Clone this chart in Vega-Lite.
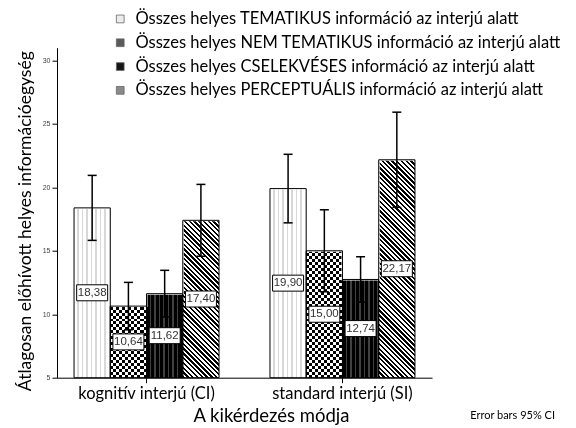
{
  "$schema": "https://vega.github.io/schema/vega-lite/v6.json",
  "width": 375,
  "height": 330,
  "autosize": "none",
  "padding": {"left": 57, "top": 47.7, "right": 144, "bottom": 50.3},
  "background": "white",
  "title": {"text": "Error bars 95% CI", "orient": "bottom", "anchor": "end", "frame": "group", "font": "Lato", "fontSize": 11, "fontWeight": "normal", "color": "#000", "offset": -15, "dx": 123},
  "data": {"values": [
    {"grp": "kognitív interjú (CI)", "type": "Összes helyes TEMATIKUS információ az interjú alatt", "value": 18.38, "lo": 15.82, "hi": 20.94},
    {"grp": "kognitív interjú (CI)", "type": "Összes helyes NEM TEMATIKUS információ az interjú alatt", "value": 10.64, "lo": 8.77, "hi": 12.51},
    {"grp": "kognitív interjú (CI)", "type": "Összes helyes CSELEKVÉSES információ az interjú alatt", "value": 11.62, "lo": 9.78, "hi": 13.46},
    {"grp": "kognitív interjú (CI)", "type": "Összes helyes PERCEPTUÁLIS információ az interjú alatt", "value": 17.40, "lo": 14.57, "hi": 20.23},
    {"grp": "standard interjú (SI)", "type": "Összes helyes TEMATIKUS információ az interjú alatt", "value": 19.90, "lo": 17.2, "hi": 22.6},
    {"grp": "standard interjú (SI)", "type": "Összes helyes NEM TEMATIKUS információ az interjú alatt", "value": 15.00, "lo": 11.77, "hi": 18.23},
    {"grp": "standard interjú (SI)", "type": "Összes helyes CSELEKVÉSES információ az interjú alatt", "value": 12.74, "lo": 10.95, "hi": 14.53},
    {"grp": "standard interjú (SI)", "type": "Összes helyes PERCEPTUÁLIS információ az interjú alatt", "value": 22.17, "lo": 18.42, "hi": 25.92}
  ]},
  "encoding": {
    "x": {"field": "grp", "type": "nominal", "sort": ["kognitív interjú (CI)", "standard interjú (SI)"], "scale": {"paddingInner": 0.26, "paddingOuter": 0.087}, "axis": {"title": "A kikérdezés módja"}},
    "xOffset": {"field": "type", "type": "nominal", "sort": ["Összes helyes TEMATIKUS információ az interjú alatt", "Összes helyes NEM TEMATIKUS információ az interjú alatt", "Összes helyes CSELEKVÉSES információ az interjú alatt", "Összes helyes PERCEPTUÁLIS információ az interjú alatt"]}
  },
  "layer": [
    {
      "mark": {"type": "bar", "strokeWidth": 0},
      "encoding": {
        "y": {"datum": 23, "type": "quantitative", "scale": {"domain": [5, 31], "nice": false, "zero": false}, "title": "Átlagosan előhívott helyes információegység"},
        "y2": {"datum": 5},
        "fill": {"field": "type", "type": "nominal",
          "scale": {"domain": ["Összes helyes TEMATIKUS információ az interjú alatt", "Összes helyes NEM TEMATIKUS információ az interjú alatt", "Összes helyes CSELEKVÉSES információ az interjú alatt", "Összes helyes PERCEPTUÁLIS információ az interjú alatt"],
            "range": ["#ececec", "#5a5a5a", "#151515", "#8a8a8a"]},
          "legend": {"orient": "none", "legendX": 55, "legendY": -37, "title": null, "direction": "vertical", "labelFont": "Lato", "labelFontSize": 16.5, "labelColor": "#000", "labelLimit": 700, "symbolType": "square", "symbolSize": 60, "symbolStrokeColor": "#666", "symbolStrokeWidth": 0.8, "rowPadding": 6.8, "labelOffset": 7}}
      }
    },
    {
      "transform": [{"filter": {"field": "type", "equal": "Összes helyes TEMATIKUS információ az interjú alatt"}}],
      "mark": {"type": "bar", "strokeWidth": 0, "fill": {"gradient": "linear", "x1": 0, "y1": 0, "x2": 1, "y2": 0, "stops": [
                {"offset":0,"color":"#fff"},{"offset":0.09,"color":"#fff"},{"offset":0.09,"color":"#d8d8d8"},{"offset":0.125,"color":"#d8d8d8"},
                {"offset":0.125,"color":"#fff"},{"offset":0.215,"color":"#fff"},{"offset":0.215,"color":"#d8d8d8"},{"offset":0.25,"color":"#d8d8d8"},
                {"offset":0.25,"color":"#fff"},{"offset":0.34,"color":"#fff"},{"offset":0.34,"color":"#d8d8d8"},{"offset":0.375,"color":"#d8d8d8"},
                {"offset":0.375,"color":"#fff"},{"offset":0.465,"color":"#fff"},{"offset":0.465,"color":"#d8d8d8"},{"offset":0.5,"color":"#d8d8d8"},
                {"offset":0.5,"color":"#fff"},{"offset":0.59,"color":"#fff"},{"offset":0.59,"color":"#d8d8d8"},{"offset":0.625,"color":"#d8d8d8"},
                {"offset":0.625,"color":"#fff"},{"offset":0.715,"color":"#fff"},{"offset":0.715,"color":"#d8d8d8"},{"offset":0.75,"color":"#d8d8d8"},
                {"offset":0.75,"color":"#fff"},{"offset":0.84,"color":"#fff"},{"offset":0.84,"color":"#d8d8d8"},{"offset":0.875,"color":"#d8d8d8"},
                {"offset":0.875,"color":"#fff"},{"offset":0.965,"color":"#fff"},{"offset":0.965,"color":"#d8d8d8"},{"offset":1,"color":"#d8d8d8"}]}},
      "encoding": {
        "y": {"datum": 23, "type": "quantitative", "title": "Átlagosan előhívott helyes információegység"},
        "y2": {"datum": 5}
      }
    },
    {
      "transform": [{"filter": {"field": "type", "equal": "Összes helyes NEM TEMATIKUS információ az interjú alatt"}}],
      "mark": {"type": "bar", "strokeWidth": 0, "fill": {"gradient": "linear", "x1": 0, "y1": 0, "x2": 0, "y2": 1, "stops": [
                {"offset":0,"color":"#000"},
                {"offset":0.013,"color":"#000"},{"offset":0.013,"color":"#fff"},{"offset":0.026,"color":"#fff"},{"offset":0.026,"color":"#000"},
                {"offset":0.039,"color":"#000"},{"offset":0.039,"color":"#fff"},{"offset":0.052,"color":"#fff"},{"offset":0.052,"color":"#000"},
                {"offset":0.065,"color":"#000"},{"offset":0.065,"color":"#fff"},{"offset":0.078,"color":"#fff"},{"offset":0.078,"color":"#000"},
                {"offset":0.091,"color":"#000"},{"offset":0.091,"color":"#fff"},{"offset":0.104,"color":"#fff"},{"offset":0.104,"color":"#000"},
                {"offset":0.117,"color":"#000"},{"offset":0.117,"color":"#fff"},{"offset":0.13,"color":"#fff"},{"offset":0.13,"color":"#000"},
                {"offset":0.143,"color":"#000"},{"offset":0.143,"color":"#fff"},{"offset":0.156,"color":"#fff"},{"offset":0.156,"color":"#000"},
                {"offset":0.169,"color":"#000"},{"offset":0.169,"color":"#fff"},{"offset":0.182,"color":"#fff"},{"offset":0.182,"color":"#000"},
                {"offset":0.195,"color":"#000"},{"offset":0.195,"color":"#fff"},{"offset":0.208,"color":"#fff"},{"offset":0.208,"color":"#000"},
                {"offset":0.221,"color":"#000"},{"offset":0.221,"color":"#fff"},{"offset":0.234,"color":"#fff"},{"offset":0.234,"color":"#000"},
                {"offset":0.247,"color":"#000"},{"offset":0.247,"color":"#fff"},{"offset":0.26,"color":"#fff"},{"offset":0.26,"color":"#000"},
                {"offset":0.273,"color":"#000"},{"offset":0.273,"color":"#fff"},{"offset":0.286,"color":"#fff"},{"offset":0.286,"color":"#000"},
                {"offset":0.299,"color":"#000"},{"offset":0.299,"color":"#fff"},{"offset":0.312,"color":"#fff"},{"offset":0.312,"color":"#000"},
                {"offset":0.325,"color":"#000"},{"offset":0.325,"color":"#fff"},{"offset":0.338,"color":"#fff"},{"offset":0.338,"color":"#000"},
                {"offset":0.351,"color":"#000"},{"offset":0.351,"color":"#fff"},{"offset":0.364,"color":"#fff"},{"offset":0.364,"color":"#000"},
                {"offset":0.377,"color":"#000"},{"offset":0.377,"color":"#fff"},{"offset":0.39,"color":"#fff"},{"offset":0.39,"color":"#000"},
                {"offset":0.403,"color":"#000"},{"offset":0.403,"color":"#fff"},{"offset":0.416,"color":"#fff"},{"offset":0.416,"color":"#000"},
                {"offset":0.429,"color":"#000"},{"offset":0.429,"color":"#fff"},{"offset":0.442,"color":"#fff"},{"offset":0.442,"color":"#000"},
                {"offset":0.455,"color":"#000"},{"offset":0.455,"color":"#fff"},{"offset":0.468,"color":"#fff"},{"offset":0.468,"color":"#000"},
                {"offset":0.481,"color":"#000"},{"offset":0.481,"color":"#fff"},{"offset":0.494,"color":"#fff"},{"offset":0.494,"color":"#000"},
                {"offset":0.507,"color":"#000"},{"offset":0.507,"color":"#fff"},{"offset":0.52,"color":"#fff"},{"offset":0.52,"color":"#000"},
                {"offset":0.533,"color":"#000"},{"offset":0.533,"color":"#fff"},{"offset":0.546,"color":"#fff"},{"offset":0.546,"color":"#000"},
                {"offset":0.559,"color":"#000"},{"offset":0.559,"color":"#fff"},{"offset":0.572,"color":"#fff"},{"offset":0.572,"color":"#000"},
                {"offset":0.585,"color":"#000"},{"offset":0.585,"color":"#fff"},{"offset":0.598,"color":"#fff"},{"offset":0.598,"color":"#000"},
                {"offset":0.611,"color":"#000"},{"offset":0.611,"color":"#fff"},{"offset":0.624,"color":"#fff"},{"offset":0.624,"color":"#000"},
                {"offset":0.637,"color":"#000"},{"offset":0.637,"color":"#fff"},{"offset":0.65,"color":"#fff"},{"offset":0.65,"color":"#000"},
                {"offset":0.663,"color":"#000"},{"offset":0.663,"color":"#fff"},{"offset":0.676,"color":"#fff"},{"offset":0.676,"color":"#000"},
                {"offset":0.689,"color":"#000"},{"offset":0.689,"color":"#fff"},{"offset":0.702,"color":"#fff"},{"offset":0.702,"color":"#000"},
                {"offset":0.715,"color":"#000"},{"offset":0.715,"color":"#fff"},{"offset":0.728,"color":"#fff"},{"offset":0.728,"color":"#000"},
                {"offset":0.741,"color":"#000"},{"offset":0.741,"color":"#fff"},{"offset":0.754,"color":"#fff"},{"offset":0.754,"color":"#000"},
                {"offset":0.767,"color":"#000"},{"offset":0.767,"color":"#fff"},{"offset":0.78,"color":"#fff"},{"offset":0.78,"color":"#000"},
                {"offset":0.793,"color":"#000"},{"offset":0.793,"color":"#fff"},{"offset":0.806,"color":"#fff"},{"offset":0.806,"color":"#000"},
                {"offset":0.819,"color":"#000"},{"offset":0.819,"color":"#fff"},{"offset":0.832,"color":"#fff"},{"offset":0.832,"color":"#000"},
                {"offset":0.845,"color":"#000"},{"offset":0.845,"color":"#fff"},{"offset":0.858,"color":"#fff"},{"offset":0.858,"color":"#000"},
                {"offset":0.871,"color":"#000"},{"offset":0.871,"color":"#fff"},{"offset":0.884,"color":"#fff"},{"offset":0.884,"color":"#000"},
                {"offset":0.897,"color":"#000"},{"offset":0.897,"color":"#fff"},{"offset":0.91,"color":"#fff"},{"offset":0.91,"color":"#000"},
                {"offset":0.923,"color":"#000"},{"offset":0.923,"color":"#fff"},{"offset":0.936,"color":"#fff"},{"offset":0.936,"color":"#000"},
                {"offset":0.949,"color":"#000"},{"offset":0.949,"color":"#fff"},{"offset":0.962,"color":"#fff"},{"offset":0.962,"color":"#000"},
                {"offset":0.975,"color":"#000"},{"offset":0.975,"color":"#fff"},{"offset":0.988,"color":"#fff"},{"offset":0.988,"color":"#000"},
                {"offset":1,"color":"#000"}]}},
      "encoding": {
        "y": {"datum": 23, "type": "quantitative", "title": "Átlagosan előhívott helyes információegység"},
        "y2": {"datum": 5}
      }
    },
    {
      "transform": [{"filter": {"field": "type", "equal": "Összes helyes NEM TEMATIKUS információ az interjú alatt"}}],
      "mark": {"type": "bar", "strokeWidth": 0, "blend": "difference", "fill": {"gradient": "linear", "x1": 0, "y1": 0, "x2": 1, "y2": 0, "stops": [
        {"offset":0,"color":"#fff"},{"offset":0.0833,"color":"#fff"},{"offset":0.0833,"color":"#000"},{"offset":0.1667,"color":"#000"},
        {"offset":0.1667,"color":"#fff"},{"offset":0.25,"color":"#fff"},{"offset":0.25,"color":"#000"},{"offset":0.3333,"color":"#000"},
        {"offset":0.3333,"color":"#fff"},{"offset":0.4167,"color":"#fff"},{"offset":0.4167,"color":"#000"},{"offset":0.5,"color":"#000"},
        {"offset":0.5,"color":"#fff"},{"offset":0.5833,"color":"#fff"},{"offset":0.5833,"color":"#000"},{"offset":0.6667,"color":"#000"},
        {"offset":0.6667,"color":"#fff"},{"offset":0.75,"color":"#fff"},{"offset":0.75,"color":"#000"},{"offset":0.8333,"color":"#000"},
        {"offset":0.8333,"color":"#fff"},{"offset":0.9167,"color":"#fff"},{"offset":0.9167,"color":"#000"},{"offset":1,"color":"#000"}]}},
      "encoding": {
        "y": {"datum": 23, "type": "quantitative", "title": "Átlagosan előhívott helyes információegység"},
        "y2": {"datum": 5}
      }
    },
    {
      "transform": [{"filter": {"field": "type", "equal": "Összes helyes CSELEKVÉSES információ az interjú alatt"}}],
      "mark": {"type": "bar", "strokeWidth": 0, "fill": {"gradient": "linear", "x1": 0, "y1": 0, "x2": 1, "y2": 0, "stops": [
                {"offset":0,"color":"#000"},{"offset":0.09,"color":"#000"},{"offset":0.09,"color":"#404040"},{"offset":0.125,"color":"#404040"},
                {"offset":0.125,"color":"#000"},{"offset":0.215,"color":"#000"},{"offset":0.215,"color":"#404040"},{"offset":0.25,"color":"#404040"},
                {"offset":0.25,"color":"#000"},{"offset":0.34,"color":"#000"},{"offset":0.34,"color":"#404040"},{"offset":0.375,"color":"#404040"},
                {"offset":0.375,"color":"#000"},{"offset":0.465,"color":"#000"},{"offset":0.465,"color":"#404040"},{"offset":0.5,"color":"#404040"},
                {"offset":0.5,"color":"#000"},{"offset":0.59,"color":"#000"},{"offset":0.59,"color":"#404040"},{"offset":0.625,"color":"#404040"},
                {"offset":0.625,"color":"#000"},{"offset":0.715,"color":"#000"},{"offset":0.715,"color":"#404040"},{"offset":0.75,"color":"#404040"},
                {"offset":0.75,"color":"#000"},{"offset":0.84,"color":"#000"},{"offset":0.84,"color":"#404040"},{"offset":0.875,"color":"#404040"},
                {"offset":0.875,"color":"#000"},{"offset":0.965,"color":"#000"},{"offset":0.965,"color":"#404040"},{"offset":1,"color":"#404040"}]}},
      "encoding": {
        "y": {"datum": 23, "type": "quantitative", "title": "Átlagosan előhívott helyes információegység"},
        "y2": {"datum": 5}
      }
    },
    {
      "transform": [{"filter": {"field": "type", "equal": "Összes helyes PERCEPTUÁLIS információ az interjú alatt"}}],
      "mark": {"type": "bar", "strokeWidth": 0, "fill": {"gradient": "linear", "x1": 0, "y1": 1, "x2": 0.17933, "y2": -0.13022, "stops": [
                {"offset":0,"color":"#000"},
                {"offset":0.009,"color":"#000"},{"offset":0.009,"color":"#fff"},{"offset":0.018,"color":"#fff"},{"offset":0.018,"color":"#000"},
                {"offset":0.027,"color":"#000"},{"offset":0.027,"color":"#fff"},{"offset":0.036,"color":"#fff"},{"offset":0.036,"color":"#000"},
                {"offset":0.045,"color":"#000"},{"offset":0.045,"color":"#fff"},{"offset":0.054,"color":"#fff"},{"offset":0.054,"color":"#000"},
                {"offset":0.063,"color":"#000"},{"offset":0.063,"color":"#fff"},{"offset":0.072,"color":"#fff"},{"offset":0.072,"color":"#000"},
                {"offset":0.081,"color":"#000"},{"offset":0.081,"color":"#fff"},{"offset":0.09,"color":"#fff"},{"offset":0.09,"color":"#000"},
                {"offset":0.099,"color":"#000"},{"offset":0.099,"color":"#fff"},{"offset":0.108,"color":"#fff"},{"offset":0.108,"color":"#000"},
                {"offset":0.117,"color":"#000"},{"offset":0.117,"color":"#fff"},{"offset":0.126,"color":"#fff"},{"offset":0.126,"color":"#000"},
                {"offset":0.135,"color":"#000"},{"offset":0.135,"color":"#fff"},{"offset":0.144,"color":"#fff"},{"offset":0.144,"color":"#000"},
                {"offset":0.153,"color":"#000"},{"offset":0.153,"color":"#fff"},{"offset":0.162,"color":"#fff"},{"offset":0.162,"color":"#000"},
                {"offset":0.171,"color":"#000"},{"offset":0.171,"color":"#fff"},{"offset":0.18,"color":"#fff"},{"offset":0.18,"color":"#000"},
                {"offset":0.189,"color":"#000"},{"offset":0.189,"color":"#fff"},{"offset":0.198,"color":"#fff"},{"offset":0.198,"color":"#000"},
                {"offset":0.207,"color":"#000"},{"offset":0.207,"color":"#fff"},{"offset":0.216,"color":"#fff"},{"offset":0.216,"color":"#000"},
                {"offset":0.225,"color":"#000"},{"offset":0.225,"color":"#fff"},{"offset":0.234,"color":"#fff"},{"offset":0.234,"color":"#000"},
                {"offset":0.243,"color":"#000"},{"offset":0.243,"color":"#fff"},{"offset":0.252,"color":"#fff"},{"offset":0.252,"color":"#000"},
                {"offset":0.261,"color":"#000"},{"offset":0.261,"color":"#fff"},{"offset":0.27,"color":"#fff"},{"offset":0.27,"color":"#000"},
                {"offset":0.279,"color":"#000"},{"offset":0.279,"color":"#fff"},{"offset":0.288,"color":"#fff"},{"offset":0.288,"color":"#000"},
                {"offset":0.297,"color":"#000"},{"offset":0.297,"color":"#fff"},{"offset":0.306,"color":"#fff"},{"offset":0.306,"color":"#000"},
                {"offset":0.315,"color":"#000"},{"offset":0.315,"color":"#fff"},{"offset":0.324,"color":"#fff"},{"offset":0.324,"color":"#000"},
                {"offset":0.333,"color":"#000"},{"offset":0.333,"color":"#fff"},{"offset":0.342,"color":"#fff"},{"offset":0.342,"color":"#000"},
                {"offset":0.351,"color":"#000"},{"offset":0.351,"color":"#fff"},{"offset":0.36,"color":"#fff"},{"offset":0.36,"color":"#000"},
                {"offset":0.369,"color":"#000"},{"offset":0.369,"color":"#fff"},{"offset":0.378,"color":"#fff"},{"offset":0.378,"color":"#000"},
                {"offset":0.387,"color":"#000"},{"offset":0.387,"color":"#fff"},{"offset":0.396,"color":"#fff"},{"offset":0.396,"color":"#000"},
                {"offset":0.405,"color":"#000"},{"offset":0.405,"color":"#fff"},{"offset":0.414,"color":"#fff"},{"offset":0.414,"color":"#000"},
                {"offset":0.423,"color":"#000"},{"offset":0.423,"color":"#fff"},{"offset":0.432,"color":"#fff"},{"offset":0.432,"color":"#000"},
                {"offset":0.441,"color":"#000"},{"offset":0.441,"color":"#fff"},{"offset":0.45,"color":"#fff"},{"offset":0.45,"color":"#000"},
                {"offset":0.459,"color":"#000"},{"offset":0.459,"color":"#fff"},{"offset":0.468,"color":"#fff"},{"offset":0.468,"color":"#000"},
                {"offset":0.477,"color":"#000"},{"offset":0.477,"color":"#fff"},{"offset":0.486,"color":"#fff"},{"offset":0.486,"color":"#000"},
                {"offset":0.495,"color":"#000"},{"offset":0.495,"color":"#fff"},{"offset":0.504,"color":"#fff"},{"offset":0.504,"color":"#000"},
                {"offset":0.513,"color":"#000"},{"offset":0.513,"color":"#fff"},{"offset":0.522,"color":"#fff"},{"offset":0.522,"color":"#000"},
                {"offset":0.531,"color":"#000"},{"offset":0.531,"color":"#fff"},{"offset":0.54,"color":"#fff"},{"offset":0.54,"color":"#000"},
                {"offset":0.549,"color":"#000"},{"offset":0.549,"color":"#fff"},{"offset":0.558,"color":"#fff"},{"offset":0.558,"color":"#000"},
                {"offset":0.567,"color":"#000"},{"offset":0.567,"color":"#fff"},{"offset":0.576,"color":"#fff"},{"offset":0.576,"color":"#000"},
                {"offset":0.585,"color":"#000"},{"offset":0.585,"color":"#fff"},{"offset":0.594,"color":"#fff"},{"offset":0.594,"color":"#000"},
                {"offset":0.603,"color":"#000"},{"offset":0.603,"color":"#fff"},{"offset":0.612,"color":"#fff"},{"offset":0.612,"color":"#000"},
                {"offset":0.621,"color":"#000"},{"offset":0.621,"color":"#fff"},{"offset":0.63,"color":"#fff"},{"offset":0.63,"color":"#000"},
                {"offset":0.639,"color":"#000"},{"offset":0.639,"color":"#fff"},{"offset":0.648,"color":"#fff"},{"offset":0.648,"color":"#000"},
                {"offset":0.657,"color":"#000"},{"offset":0.657,"color":"#fff"},{"offset":0.666,"color":"#fff"},{"offset":0.666,"color":"#000"},
                {"offset":0.675,"color":"#000"},{"offset":0.675,"color":"#fff"},{"offset":0.684,"color":"#fff"},{"offset":0.684,"color":"#000"},
                {"offset":0.693,"color":"#000"},{"offset":0.693,"color":"#fff"},{"offset":0.702,"color":"#fff"},{"offset":0.702,"color":"#000"},
                {"offset":0.711,"color":"#000"},{"offset":0.711,"color":"#fff"},{"offset":0.72,"color":"#fff"},{"offset":0.72,"color":"#000"},
                {"offset":0.729,"color":"#000"},{"offset":0.729,"color":"#fff"},{"offset":0.738,"color":"#fff"},{"offset":0.738,"color":"#000"},
                {"offset":0.747,"color":"#000"},{"offset":0.747,"color":"#fff"},{"offset":0.756,"color":"#fff"},{"offset":0.756,"color":"#000"},
                {"offset":0.765,"color":"#000"},{"offset":0.765,"color":"#fff"},{"offset":0.774,"color":"#fff"},{"offset":0.774,"color":"#000"},
                {"offset":0.783,"color":"#000"},{"offset":0.783,"color":"#fff"},{"offset":0.792,"color":"#fff"},{"offset":0.792,"color":"#000"},
                {"offset":0.801,"color":"#000"},{"offset":0.801,"color":"#fff"},{"offset":0.81,"color":"#fff"},{"offset":0.81,"color":"#000"},
                {"offset":0.819,"color":"#000"},{"offset":0.819,"color":"#fff"},{"offset":0.828,"color":"#fff"},{"offset":0.828,"color":"#000"},
                {"offset":0.837,"color":"#000"},{"offset":0.837,"color":"#fff"},{"offset":0.846,"color":"#fff"},{"offset":0.846,"color":"#000"},
                {"offset":0.855,"color":"#000"},{"offset":0.855,"color":"#fff"},{"offset":0.864,"color":"#fff"},{"offset":0.864,"color":"#000"},
                {"offset":0.873,"color":"#000"},{"offset":0.873,"color":"#fff"},{"offset":0.882,"color":"#fff"},{"offset":0.882,"color":"#000"},
                {"offset":0.891,"color":"#000"},{"offset":0.891,"color":"#fff"},{"offset":0.9,"color":"#fff"},{"offset":0.9,"color":"#000"},
                {"offset":0.909,"color":"#000"},{"offset":0.909,"color":"#fff"},{"offset":0.918,"color":"#fff"},{"offset":0.918,"color":"#000"},
                {"offset":0.927,"color":"#000"},{"offset":0.927,"color":"#fff"},{"offset":0.936,"color":"#fff"},{"offset":0.936,"color":"#000"},
                {"offset":0.945,"color":"#000"},{"offset":0.945,"color":"#fff"},{"offset":0.954,"color":"#fff"},{"offset":0.954,"color":"#000"},
                {"offset":0.963,"color":"#000"},{"offset":0.963,"color":"#fff"},{"offset":0.972,"color":"#fff"},{"offset":0.972,"color":"#000"},
                {"offset":0.981,"color":"#000"},{"offset":0.981,"color":"#fff"},{"offset":0.99,"color":"#fff"},{"offset":0.99,"color":"#000"},
                {"offset":0.999,"color":"#000"},{"offset":0.999,"color":"#fff"},{"offset":1,"color":"#fff"}]}},
      "encoding": {
        "y": {"datum": 23, "type": "quantitative", "title": "Átlagosan előhívott helyes információegység"},
        "y2": {"datum": 5}
      }
    },
    {
      "mark": {"type": "bar", "fill": "white", "stroke": "white", "strokeWidth": 2},
      "encoding": {
        "y": {"field": "value", "type": "quantitative", "title": "Átlagosan előhívott helyes információegység"},
        "y2": {"datum": 23.5}
      }
    },
    {
      "mark": {"type": "bar", "fill": "transparent", "stroke": "#000", "strokeWidth": 1},
      "encoding": {
        "y": {"field": "value", "type": "quantitative", "title": "Átlagosan előhívott helyes információegység"},
        "y2": {"datum": 5}
      }
    },
    {
      "mark": {"type": "rule", "color": "#000", "strokeWidth": 1.5},
      "encoding": {
        "y": {"field": "lo", "type": "quantitative", "title": "Átlagosan előhívott helyes információegység"},
        "y2": {"field": "hi"}
      }
    },
    {
      "mark": {"type": "tick", "color": "#000", "size": 9, "thickness": 1.5, "opacity": 1},
      "encoding": {
        "y": {"field": "hi", "type": "quantitative", "title": "Átlagosan előhívott helyes információegység"}
      }
    },
    {
      "mark": {"type": "tick", "color": "#000", "size": 9, "thickness": 1.5, "opacity": 1},
      "encoding": {
        "y": {"field": "lo", "type": "quantitative", "title": "Átlagosan előhívott helyes információegység"}
      }
    },
    {
      "transform": [{"calculate": "(datum.value + 5) / 2", "as": "mid"}],
      "mark": {"type": "point", "shape": "M-1,-0.516L1,-0.516L1,0.516L-1,0.516Z", "size": 961, "filled": true, "fill": "#fff", "stroke": "#000", "strokeWidth": 1, "opacity": 1},
      "encoding": {
        "y": {"field": "mid", "type": "quantitative", "title": "Átlagosan előhívott helyes információegység"}
      }
    },
    {
      "transform": [{"calculate": "(datum.value + 5) / 2", "as": "mid"}],
      "mark": {"type": "text", "font": "Liberation Sans", "fontSize": 11.5, "color": "#333", "baseline": "middle", "align": "center"},
      "encoding": {
        "y": {"field": "mid", "type": "quantitative", "title": "Átlagosan előhívott helyes információegység"},
        "text": {"field": "value", "type": "quantitative", "format": ".2f"}
      }
    }
  ],
  "config": {
    "view": {"stroke": null},
    "locale": {"number": {"decimal": ",", "thousands": ".", "grouping": [3], "currency": ["", ""]}},
    "axisY": {"tickCount": 6, "grid": false, "domainColor": "#000", "tickColor": "#000", "tickSize": 5, "labelFontSize": 7, "labelColor": "#444", "labelFont": "Liberation Sans", "labelPadding": 2, "titleFont": "Lato", "titleFontSize": 17.5, "titleFontWeight": "normal", "titleColor": "#000", "titlePadding": 8, "titleY": 173},
    "axisX": {"labelAngle": 0, "domainColor": "#000", "tickColor": "#000", "tickSize": 5, "labelFont": "Lato", "labelFontSize": 16.5, "labelColor": "#000", "labelPadding": 3, "titleFont": "Lato", "titleFontSize": 18.5, "titleFontWeight": "normal", "titleColor": "#000", "titlePadding": 4, "titleX": 214}
  }
}
